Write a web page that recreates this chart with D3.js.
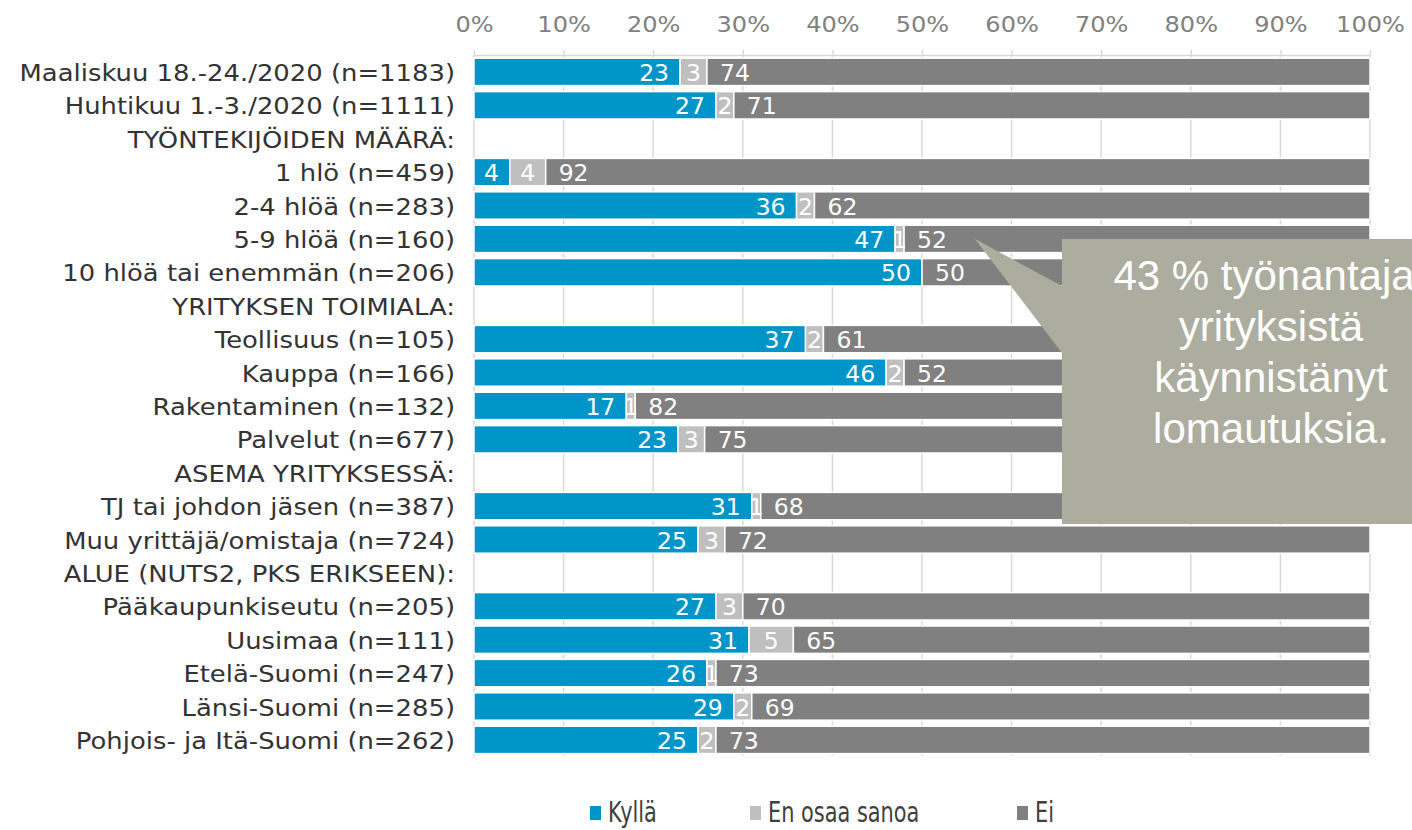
<!DOCTYPE html>
<html>
<head>
<meta charset="utf-8">
<script src="https://cdn.jsdelivr.net/npm/d3@7"></script>
<style>
  html, body { margin: 0; padding: 0; background: #fff; }
  svg { display: block; }
</style>
</head>
<body>
<svg id="chart" width="1412" height="830"></svg>
<script>
const categories = [
  "Maaliskuu 18.-24./2020 (n=1183)",
  "Huhtikuu 1.-3./2020 (n=1111)",
  "TYÖNTEKIJÖIDEN MÄÄRÄ:",
  "1 hlö (n=459)",
  "2-4 hlöä (n=283)",
  "5-9 hlöä (n=160)",
  "10 hlöä tai enemmän (n=206)",
  "YRITYKSEN TOIMIALA:",
  "Teollisuus (n=105)",
  "Kauppa (n=166)",
  "Rakentaminen (n=132)",
  "Palvelut (n=677)",
  "ASEMA YRITYKSESSÄ:",
  "TJ tai johdon jäsen (n=387)",
  "Muu yrittäjä/omistaja (n=724)",
  "ALUE (NUTS2, PKS ERIKSEEN):",
  "Pääkaupunkiseutu (n=205)",
  "Uusimaa (n=111)",
  "Etelä-Suomi (n=247)",
  "Länsi-Suomi (n=285)",
  "Pohjois- ja Itä-Suomi (n=262)"
];
const kylla = [23, 27, null, 4, 36, 47, 50, null, 37, 46, 17, 23, null, 31, 25, null, 27, 31, 26, 29, 25];
const enOsaa = [3, 2, null, 4, 2, 1, 0, null, 2, 2, 1, 3, null, 1, 3, null, 3, 5, 1, 2, 2];
const ei = [74, 71, null, 92, 62, 52, 50, null, 61, 52, 82, 75, null, 68, 72, null, 70, 65, 73, 69, 73];
const seriesNames = ["Kyllä", "En osaa sanoa", "Ei"];
const tickValues = [0, 10, 20, 30, 40, 50, 60, 70, 80, 90, 100];
const annotationLines = ["43 % työnantaja-", "yrityksistä", "käynnistänyt", "lomautuksia."];

const colors = ["#0095C8", "#BFBFBF", "#808080"];
const FONT = "'DejaVu Sans', Verdana, sans-serif";

const svg = d3.select("#chart");

const rows = categories.map((c, i) => ({
  i, label: c, header: kylla[i] === null,
  k: kylla[i] || 0, e: enOsaa[i] || 0, n: ei[i] || 0
}));
const keys = ["k", "e", "n"];
const stacked = d3.stack().keys(keys).offset(d3.stackOffsetExpand)(rows);

const x = d3.scaleLinear().domain([0, 100]).range([474, 1370]);
const y = d3.scaleBand().domain(d3.range(categories.length))
  .range([55.2, 756.6]).paddingInner(0.18).paddingOuter(0.09);

// gridlines
svg.append("g").selectAll("line").data(tickValues).join("line")
  .attr("x1", d => x(d)).attr("x2", d => x(d))
  .attr("y1", 55).attr("y2", 756)
  .attr("stroke", "#D9D9D9").attr("stroke-width", 1.5);

// axis
const axis = svg.append("g").attr("transform", "translate(0,55)")
  .call(d3.axisTop(x).tickValues(tickValues).tickSize(5).tickSizeOuter(0).tickFormat(d => d + "%"));
axis.select(".domain").attr("stroke", "#D9D9D9").attr("stroke-width", 1.5);
axis.selectAll(".tick line").attr("stroke", "#D9D9D9").attr("stroke-width", 1.5);
axis.selectAll(".tick text")
  .attr("y", -23).attr("dy", 0)
  .attr("fill", "#808080")
  .style("font-family", FONT).style("font-size", "21.5px")
  .attr("transform", "scale(1.12,1)");

// bars
const barG = svg.append("g");
stacked.forEach((layer, li) => {
  barG.append("g").selectAll("rect")
    .data(layer.filter(d => !d.data.header && d.data[keys[li]] > 0))
    .join("rect")
    .attr("x", d => x(d[0] * 100))
    .attr("width", d => x(d[1] * 100) - x(d[0] * 100))
    .attr("y", d => y(d.data.i))
    .attr("height", y.bandwidth())
    .attr("fill", colors[li])
    .attr("stroke", "#fff").attr("stroke-width", 1.5);
});

// value labels
const lblG = svg.append("g").style("font-family", FONT).style("font-size", "23.5px").attr("fill", "#fff");
stacked.forEach((layer, li) => {
  lblG.append("g").selectAll("text")
    .data(layer.filter(d => !d.data.header && d.data[keys[li]] > 0))
    .join("text")
    .attr("x", d => li === 0 ? x(d[1] * 100) - 11 : li === 1 ? (x(d[0] * 100) + x(d[1] * 100)) / 2 : x(d[0] * 100) + 13)
    .attr("y", d => y(d.data.i) + y.bandwidth() / 2 + 9)
    .attr("text-anchor", li === 0 ? "end" : li === 1 ? "middle" : "start")
    .text(d => d.data[keys[li]]);
});

// category labels
svg.append("g").selectAll("g").data(rows).join("g")
  .attr("transform", d => `translate(455,${y(d.i) + y.bandwidth() / 2 + 9}) scale(1.125,1)`)
  .append("text")
  .attr("text-anchor", "end")
  .attr("fill", "#333333")
  .style("font-family", FONT).style("font-size", "23px")
  .text(d => d.label);

// annotation callout
const ann = svg.append("g");
ann.append("path")
  .attr("d", "M1062,239 L1430,239 L1430,524 L1062,524 L1062,353 L975,239 L1062,286 Z")
  .attr("fill", "#ACAD9E");
ann.selectAll("text").data(annotationLines).join("text")
  .attr("x", 1271).attr("y", (d, i) => 290 + i * 51)
  .attr("text-anchor", "middle")
  .attr("fill", "#fff")
  .style("font-family", "'Liberation Sans', Arial, sans-serif").style("font-size", "42px")
  .text(d => d);

// legend
const legendX = [590, 750, 1017];
const leg = svg.append("g").selectAll("g").data(seriesNames).join("g")
  .attr("transform", (d, i) => `translate(${legendX[i]},0)`);
leg.append("rect").attr("x", 0).attr("y", 806).attr("width", 11).attr("height", 14)
  .attr("fill", (d, i) => colors[i]);
leg.append("g").attr("transform", "translate(18,822) scale(0.72,1)")
  .append("text").attr("fill", "#404040")
  .style("font-family", FONT).style("font-size", "29px")
  .text(d => d);
</script>
</body>
</html>
